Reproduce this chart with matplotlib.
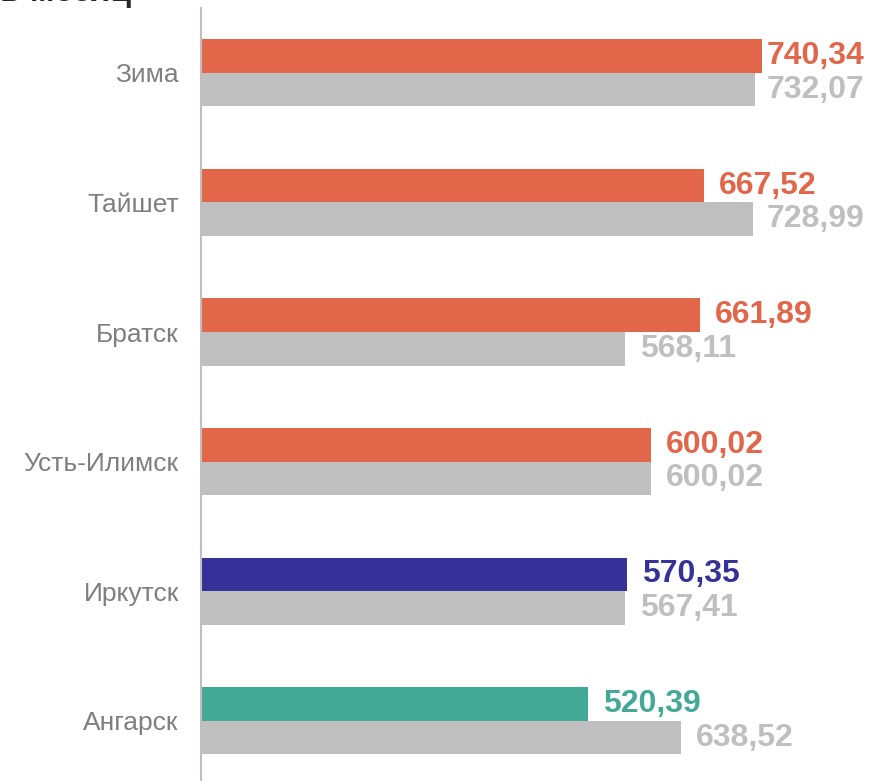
import numpy as np
import matplotlib.pyplot as plt

plt.rcParams['font.family'] = ['Liberation Sans', 'DejaVu Sans']

cities = ['Зима', 'Тайшет', 'Братск', 'Усть-Илимск', 'Иркутск', 'Ангарск']
current = [740.34, 667.52, 661.89, 600.02, 570.35, 520.39]
previous = [732.07, 728.99, 568.11, 600.02, 567.41, 638.52]
bar_colors = ['#E2674A', '#E2674A', '#E2674A', '#E2674A', '#353199', '#43A997']
gray = '#BFBFBF'

W, H = 872, 781
fig = plt.figure(figsize=(W / 100, H / 100), dpi=100)
# axes: left edge at the vertical axis line, rows spaced ~130 px
ax = fig.add_axes([201 / W, (H - 785.6) / H, 1 - 201 / W, 777.6 / H])
ax.set_xlim(31.6, 31.6 + (W - 201) / 0.791)
ax.set_ylim(5.5, -0.5)

y = np.arange(len(cities))
h = 0.26
ax.barh(y - h / 2, current, height=h, color=bar_colors, zorder=2)
ax.barh(y + h / 2, previous, height=h, color=gray, zorder=2)

xmax = ax.get_xlim()[1]
for i in range(len(cities)):
    for val, col, yy in [(current[i], bar_colors[i], y[i] - h / 2),
                         (previous[i], gray, y[i] + h / 2)]:
        txt = f'{val:.2f}'.replace('.', ',')
        # keep label inside the figure
        x = min(val + 15 / 0.791, xmax - 105 / 0.791)
        ax.text(x, yy, txt, color=col, fontsize=23, fontweight='bold',
                va='center', ha='left', zorder=3)

ax.set_yticks(y)
ax.set_yticklabels(cities, fontsize=19, color='#7F7F7F')
ax.tick_params(axis='y', length=0, pad=16)
ax.set_xticks([])
for s in ['top', 'right', 'bottom']:
    ax.spines[s].set_visible(False)
ax.spines['left'].set_color('#BFBFBF')
ax.spines['left'].set_linewidth(1.5)

fig.text(0.0, 1 - 1.5 / H, 'в месяц', fontsize=24, fontweight='bold',
         color='#262626', ha='left', va='baseline')

fig.savefig('out.png', dpi=100)
